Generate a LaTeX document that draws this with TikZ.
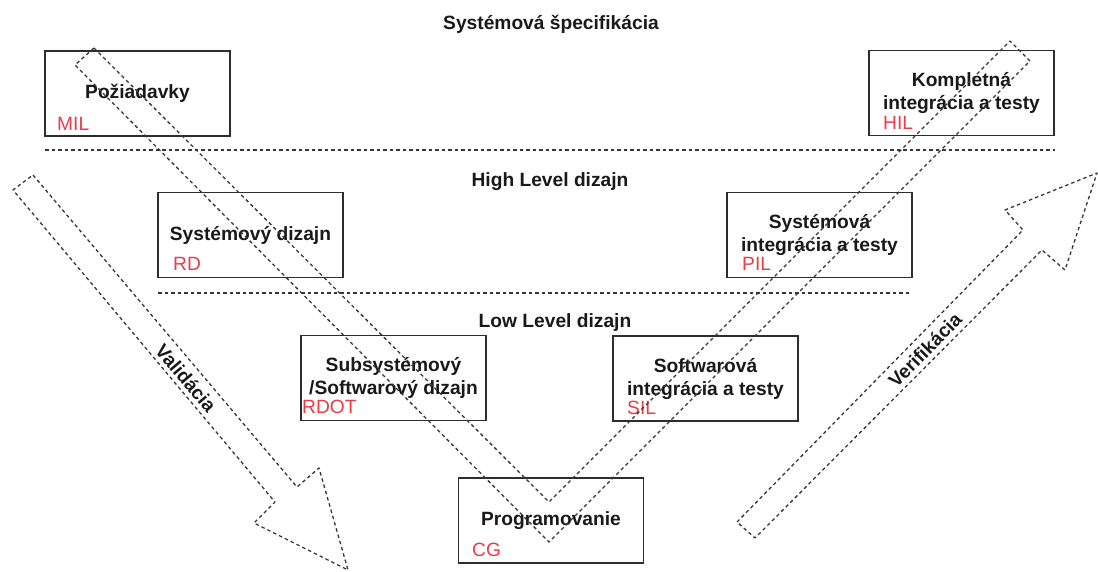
\documentclass[tikz,border=0pt]{standalone}
\usepackage{fontspec}
\setmainfont{Liberation Sans}
\definecolor{boxgray}{RGB}{45,45,45}
\definecolor{dashgray}{RGB}{55,55,55}
\definecolor{textblack}{RGB}{25,25,25}
\definecolor{tagred}{RGB}{235,60,70}
\begin{document}
\begin{tikzpicture}[x=1pt,y=-1pt,
  box/.style={draw=boxgray, line width=1.4pt, fill=white, minimum width=185pt, minimum height=85pt, align=center, inner sep=2pt, font=\bfseries\fontsize{19.2}{23}\selectfont, text=textblack},
  tag/.style={anchor=west, inner sep=0pt, text=tagred, font=\fontsize{19.2}{23}\selectfont},
  title/.style={font=\bfseries\fontsize{19.2}{23}\selectfont, text=textblack, inner sep=1pt},
  dashline/.style={draw=dashgray, line width=1.3pt, dash pattern=on 3.5pt off 3pt, line join=round},
]
\useasboundingbox (0,0) rectangle (1098,572);

% level titles
\node[title] (tspec) at (551,24) {Systémová špecifikácia};
\node[title] (thigh) at (550,182) {High Level dizajn};
\node[title] (tlow) at (555,323) {Low Level dizajn};

% separators
\coordinate (s1a) at (45,150);
\coordinate (s1b) at (1055,150);
\coordinate (s2a) at (158,293);
\coordinate (s2b) at (912,293);
\draw[dashline] (s1a) -- (s1b);
\draw[dashline] (s2a) -- (s2b);

% boxes
\node[box] (req) at (137.5,93.5) {Požiadavky};
\node[box] (hil) at (961.5,93) {Kompletná\\integrácia a testy};
\node[box] (sd) at (250.5,235) {Systémový dizajn};
\node[box] (pil) at (819.5,235) {Systémová\\integrácia a testy};
\node[box] (sub) at (393.5,378) {Subsystémový\\/Softwarový dizajn};
\node[box] (sil) at (705.5,378.5) {Softwarová\\integrácia a testy};
\node[box] (prog) at (551,520.5) {Programovanie};

% tags
\node[tag] (tmil) at (57,124) {MIL};
\node[tag] (thil) at (883,123) {HIL};
\node[tag] (trd) at (173,264) {RD};
\node[tag] (tpil) at (742,264) {PIL};
\node[tag] (trdot) at (302,407) {RDOT};
\node[tag] (tsil) at (627,408) {SIL};
\node[tag] (tcg) at (472,550) {CG};

% V shape
\draw[dashline] (94,48) -- (549,502) -- (1010,41) -- (1030,61) -- (549,542) -- (75,65) -- cycle;

% Validacia arrow
\draw[dashline] (33,175) -- (297,487) -- (319,468) -- (348,570) -- (254,523) -- (275,502) -- (13,190) -- cycle;
\node[title, rotate=-49.8] (val) at (186,378) {Validácia};

% Verifikacia arrow
\draw[dashline] (737,522) -- (1023,230) -- (1005,210) -- (1097,173) -- (1065,270) -- (1042,250) -- (755,538) -- cycle;
\node[title, rotate=45.6] (ver) at (925,350) {Verifikácia};
\end{tikzpicture}
\end{document}
